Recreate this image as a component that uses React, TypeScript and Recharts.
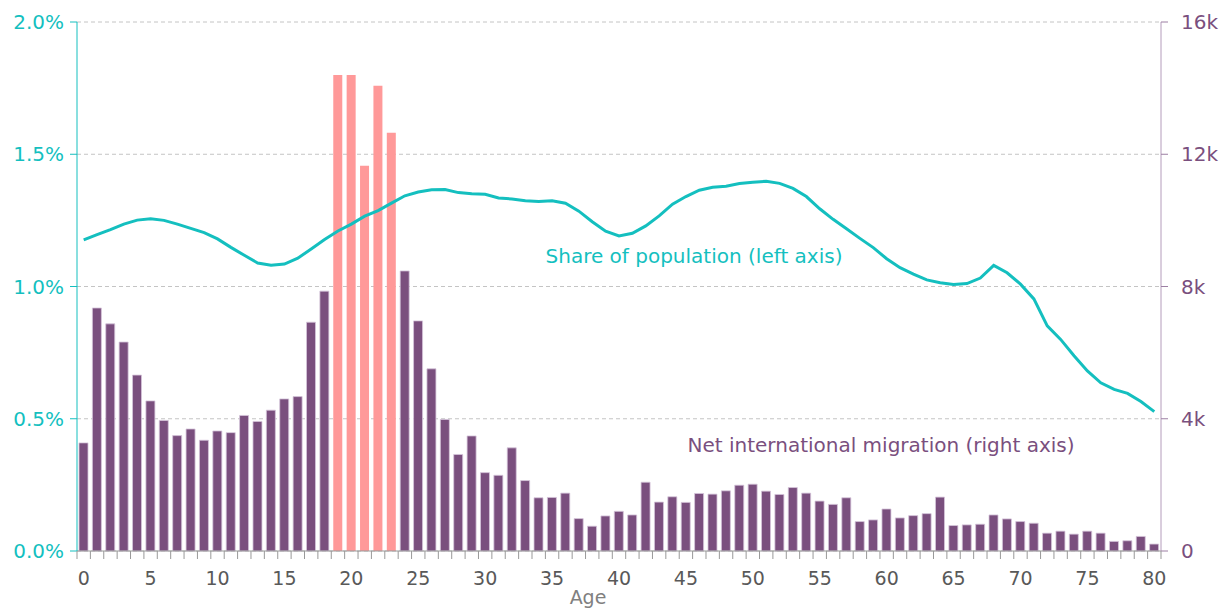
import {
  ComposedChart,
  Bar,
  Line,
  XAxis,
  YAxis,
  CartesianGrid,
  Cell,
} from "recharts";

const ages = [
  0, 1, 2, 3, 4, 5, 6, 7, 8, 9, 10, 11, 12, 13, 14, 15, 16, 17, 18, 19, 20,
  21, 22, 23, 24, 25, 26, 27, 28, 29, 30, 31, 32, 33, 34, 35, 36, 37, 38, 39,
  40, 41, 42, 43, 44, 45, 46, 47, 48, 49, 50, 51, 52, 53, 54, 55, 56, 57, 58,
  59, 60, 61, 62, 63, 64, 65, 66, 67, 68, 69, 70, 71, 72, 73, 74, 75, 76, 77,
  78, 79, 80,
];

// net international migration, people (right axis)
const netMigration = [
  3270, 7350, 6870, 6320, 5320, 4540, 3950, 3490, 3690, 3350,
  3630, 3580, 4100, 3920, 4260, 4600, 4670, 6920, 7860, 14400,
  14400, 11650, 14070, 12650, 8470, 6960, 5510, 3980, 2920, 3480,
  2370, 2290, 3120, 2130, 1610, 1620, 1750, 980, 750, 1060,
  1200, 1090, 2080, 1480, 1640, 1470, 1740, 1720, 1820, 1990,
  2020, 1810, 1710, 1920, 1750, 1510, 1410, 1610, 890, 940,
  1270, 1000, 1070, 1130, 1630, 770, 790, 810, 1090, 970,
  890, 840, 540, 600, 510, 600, 540, 290, 310, 440, 210,
];

// share of population, % (left axis)
const populationShare = [
  1.176, 1.196, 1.215, 1.236, 1.251, 1.256, 1.25, 1.236, 1.22, 1.204,
  1.18, 1.148, 1.118, 1.089, 1.08, 1.085, 1.107, 1.142, 1.178, 1.21,
  1.236, 1.266, 1.287, 1.315, 1.343, 1.357, 1.366, 1.367, 1.355, 1.351,
  1.349, 1.335, 1.331, 1.324, 1.321, 1.324, 1.315, 1.285, 1.245, 1.209,
  1.191, 1.201, 1.229, 1.267, 1.311, 1.34, 1.364, 1.375, 1.379, 1.389,
  1.394, 1.398, 1.39, 1.371, 1.34, 1.294, 1.254, 1.218, 1.182, 1.147,
  1.105, 1.071, 1.047, 1.025, 1.014, 1.008, 1.011, 1.032, 1.08, 1.052,
  1.009, 0.953, 0.851, 0.8, 0.738, 0.681, 0.636, 0.611, 0.596, 0.565, 0.527,
];

const highlightAges = [19, 20, 21, 22, 23];

const leftTicks = [0, 0.5, 1, 1.5, 2];
const rightTicks = [0, 4000, 8000, 12000, 16000];

const TEAL = "#14bfbf";
const PURPLE = "#7a4f7e";
const PINK = "#ff9999";

const data = ages.map((age, i) => ({
  age,
  migration: netMigration[i],
  share: populationShare[i],
}));

interface TickProps {
  x?: number;
  y?: number;
  payload?: { value: number; offset?: number; index?: number };
}

const AgeTick = ({ x = 0, y = 0, payload }: TickProps) => {
  if (!payload) return null;
  const half = payload.offset || 1084 / 162;
  const isLast = payload.value === ages[ages.length - 1];
  return (
    <g>
      <line x1={x - half} x2={x - half} y1={y} y2={y + 8} stroke="#999" />
      {isLast && (
        <line x1={x + half} x2={x + half} y1={y} y2={y + 8} stroke="#999" />
      )}
      {payload.value % 5 === 0 && (
        <text x={x} y={y + 34} textAnchor="middle" fill="#595959" fontSize={19}>
          {payload.value}
        </text>
      )}
    </g>
  );
};

export default function App() {
  return (
    <div
      style={{
        position: "absolute",
        left: 0,
        top: 0,
        width: 1227,
        height: 608,
        fontFamily: "DejaVu Sans",
        background: "#fff",
      }}
    >
      <ComposedChart
        width={1227}
        height={608}
        data={data}
        margin={{ top: 22, right: 0, left: 0, bottom: 0 }}
      >
        <CartesianGrid
          yAxisId="left"
          vertical={false}
          stroke="#c4c4c4"
          strokeDasharray="4 3"
        />
        <XAxis
          dataKey="age"
          height={57}
          interval={0}
          tickLine={false}
          tickSize={0}
          tickMargin={0}
          axisLine={{ stroke: "#999" }}
          tick={<AgeTick />}
        />
        <YAxis
          yAxisId="left"
          width={77}
          domain={[0, 2]}
          ticks={leftTicks}
          tickFormatter={(v: number) => `${v.toFixed(1)}%`}
          axisLine={{ stroke: TEAL }}
          tickLine={{ stroke: TEAL }}
          tickSize={7}
          tickMargin={6}
          tick={{ fill: TEAL, fontSize: 20 }}
        />
        <YAxis
          yAxisId="right"
          orientation="right"
          width={66}
          domain={[0, 16000]}
          ticks={rightTicks}
          tickFormatter={(v: number) => (v === 0 ? "0" : `${v / 1000}k`)}
          axisLine={{ stroke: "#b49cbb" }}
          tickLine={{ stroke: "#9c7fa3" }}
          tickSize={7}
          tickMargin={13}
          tick={{ fill: PURPLE, fontSize: 20 }}
        />
        <Bar
          yAxisId="right"
          dataKey="migration"
          barSize={9}
          isAnimationActive={false}
        >
          {data.map((d) => {
            const hot = highlightAges.includes(d.age);
            return (
              <Cell
                key={d.age}
                fill={hot ? PINK : PURPLE}
                stroke={hot ? "none" : "#d6c5da"}
                strokeWidth={0.8}
              />
            );
          })}
        </Bar>
        <Line
          yAxisId="left"
          dataKey="share"
          type="linear"
          stroke={TEAL}
          strokeWidth={3}
          dot={false}
          isAnimationActive={false}
        />
      </ComposedChart>
      <svg
        width={1227}
        height={608}
        style={{ position: "absolute", left: 0, top: 0, pointerEvents: "none" }}
      >
        <text x={694} y={263} textAnchor="middle" fill={TEAL} fontSize={20}>
          Share of population (left axis)
        </text>
        <text x={881} y={452} textAnchor="middle" fill={PURPLE} fontSize={20}>
          Net international migration (right axis)
        </text>
        <text x={588} y={604} textAnchor="middle" fill="#808080" fontSize={19}>
          Age
        </text>
      </svg>
    </div>
  );
}
